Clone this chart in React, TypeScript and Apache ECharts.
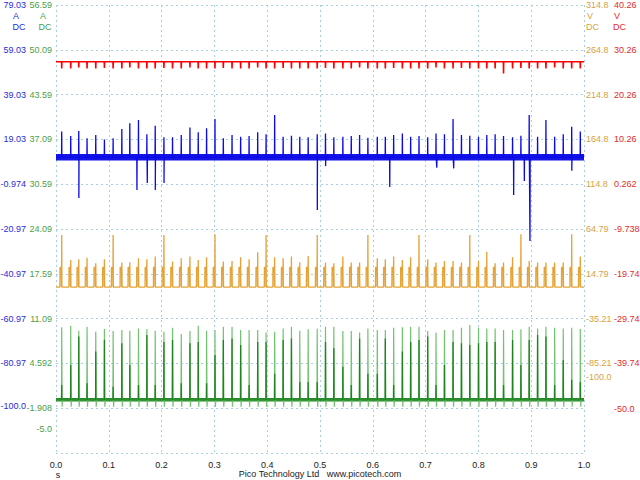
import React, { useEffect, useRef } from "react";
import * as echarts from "echarts";

// ---- tick labels (axis texts) ----
const blueTickLabels = ["79.03", "59.03", "39.03", "19.03", "-0.974", "-20.97", "-40.97", "-60.97", "-80.97", "-100.0"];
const greenTickLabels = ["56.59", "50.09", "43.59", "37.09", "30.59", "24.09", "17.59", "11.09", "4.592", "-1.908", "-5.0"];
const orangeTickLabels = ["314.8", "264.8", "214.8", "164.8", "114.8", "64.79", "14.79", "-35.21", "-85.21", "-100.0"];
const redTickLabels = ["40.26", "30.26", "20.26", "10.26", "0.262", "-9.738", "-19.74", "-29.74", "-39.74", "-50.0"];

// axis ranges (bottom, top) for the 10 divisions
const blueRange = [-120.97, 79.03];
const greenRange = [-8.41, 56.59];
const orangeRange = [-185.2, 314.8];
const redRange = [-59.74, 40.26];

// ---- event times (s) ----
const spikeTimes = [
  0.0108, 0.0279, 0.0431, 0.0588, 0.0753, 0.0917, 0.1082, 0.1247, 0.1398, 0.1562,
  0.1721, 0.1879, 0.2044, 0.2207, 0.2372, 0.2537, 0.2694, 0.2852, 0.3011, 0.3169,
  0.3334, 0.3497, 0.3657, 0.382, 0.3979, 0.4141, 0.4302, 0.4459, 0.4617, 0.4776,
  0.4947, 0.5104, 0.5262, 0.5433, 0.5592, 0.575, 0.5907, 0.6085, 0.6237, 0.6395,
  0.656, 0.6717, 0.6875, 0.704, 0.7197, 0.7357, 0.752, 0.7679, 0.7837, 0.8002,
  0.8159, 0.8317, 0.8476, 0.8647, 0.8805, 0.8962, 0.9121, 0.9279, 0.9444, 0.9607,
  0.9767, 0.993,
];

// ---- blue channel (A) ----
const blueBase = 11.1;
const bluePeaks = [
  22.5, 20.5, 22.8, 19.5, 21.0, 19.0, 19.5, 23.7, 26.2, 27.7,
  21.3, 25.1, 20.0, 20.0, 21.0, 24.3, 22.2, 24.0, 28.1, 19.5,
  21.0, 20.2, 20.5, 22.2, 21.3, 29.9, 20.2, 20.7, 20.2, 20.0,
  21.3, 21.7, 20.0, 20.2, 20.5, 21.0, 19.8, 20.2, 20.2, 21.0,
  21.7, 20.2, 20.5, 20.0, 21.7, 21.3, 28.1, 21.0, 20.7, 20.2,
  21.0, 21.3, 20.5, 20.0, 20.7, 29.9, 20.2, 27.7, 20.2, 21.3,
  24.7, 22.5,
];
const blueDipTimes = [0.0431, 0.1531, 0.1727, 0.1879, 0.2044, 0.4947, 0.5104, 0.6319, 0.721, 0.753, 0.8666, 0.8868, 0.8975, 0.9767];
const blueDipValues = [-7.1, -3.6, -0.4, -3.6, -0.4, -12.5, 7.1, -2.2, 6.4, 6.1, -5.8, 0.5, -26.3, 5.0];

// ---- red channel (V) ----
const redBase = 27.6;
const redDips = [
  26.1, 26.1, 26.3, 26.1, 26.1, 26.2, 26.1, 26.1, 26.3, 26.1,
  26.1, 26.1, 26.2, 26.1, 26.1, 26.3, 26.1, 26.1, 26.1, 26.2,
  26.1, 26.1, 26.1, 26.3, 26.1, 26.1, 26.2, 26.1, 26.1, 26.1,
  26.1, 26.2, 26.1, 26.1, 26.1, 26.3, 26.1, 26.1, 26.1, 26.2,
  26.1, 26.1, 26.1, 26.1, 26.3, 26.1, 26.1, 26.2, 26.1, 26.1,
  26.1, 26.1, 25.0, 26.1, 26.2, 26.1, 26.1, 26.1, 26.3, 26.1,
  26.1, 26.1,
];

// ---- orange channel (V) ----
const orangeBase = 0;
const orangeShoulder = 22;
const orangePeaks = [
  58.1, 30.2, 31.0, 32.8, 26.5, 31.0, 58.1, 27.3, 27.6, 32.1,
  31.0, 34.0, 58.1, 28.4, 32.1, 34.0, 30.2, 33.2, 58.9, 28.4,
  29.1, 33.2, 31.0, 38.8, 58.1, 33.2, 32.1, 34.0, 27.6, 34.7,
  58.1, 27.3, 26.5, 34.0, 27.3, 27.3, 58.1, 32.1, 31.0, 34.0,
  30.2, 33.2, 58.1, 31.0, 27.3, 29.1, 29.1, 27.3, 58.1, 29.1,
  39.5, 26.5, 27.3, 33.2, 58.9, 29.1, 27.3, 27.3, 27.3, 27.3,
  58.9, 34.0,
];

// ---- green channel (A) ----
const greenBase = -0.7;
const greenUndershoot = -1.7;
const greenPeaks = [
  9.82, 10.06, 9.34, 9.92, 9.19, 9.58, 9.29, 9.43, 9.34, 9.67,
  9.53, 9.34, 9.19, 9.77, 8.85, 9.29, 10.06, 9.34, 9.43, 9.92,
  9.92, 9.43, 9.43, 9.43, 9.09, 9.19, 9.67, 9.92, 9.34, 9.53,
  9.6, 9.92, 9.92, 9.29, 9.29, 9.09, 9.67, 9.43, 9.43, 9.77,
  9.82, 9.92, 9.92, 9.29, 9.09, 9.43, 9.43, 9.77, 10.16, 9.77,
  9.67, 9.67, 9.43, 9.43, 9.53, 9.92, 9.67, 9.92, 9.77, 9.67,
  9.77, 9.58,
];
const greenCores = [
  1.45, 4.35, 8.5, 1.7, 6.3, 8.0, 1.2, 7.5, 4.35, 1.45,
  8.7, 1.45, 7.7, 8.0, 1.7, 7.5, 7.7, 1.7, 5.8, 8.0,
  8.2, 7.25, 1.45, 7.7, 7.7, 3.1, 8.0, 8.2, 1.9, 1.9,
  1.9, 7.7, 6.8, 4.1, 1.45, 8.2, 3.1, 3.1, 8.2, 1.45,
  6.3, 7.7, 8.0, 8.5, 1.45, 4.35, 7.7, 7.5, 7.25, 7.5,
  7.7, 7.7, 1.45, 8.0, 4.35, 8.0, 8.7, 8.5, 1.45, 5.1,
  2.2, 1.9,
];

const FONT = "'Liberation Sans', Arial, sans-serif";
const GRID_COLOR = "#a9cfe4";
const BLUE_TXT = "#2b2bd6";
const GREEN_TXT = "#4c9e4c";
const ORANGE_TXT = "#d9a23e";
const RED_TXT = "#e22a2a";

function labelFor(labels: string[]) {
  const vals = labels.map(Number);
  return (v: number) => {
    let best = -1;
    let bd = Infinity;
    vals.forEach((x, i) => {
      const d = Math.abs(x - v);
      if (d < bd) {
        bd = d;
        best = i;
      }
    });
    return bd < 1e-3 ? labels[best] : "";
  };
}

function sideAxis(labels: string[], range: number[], position: string, offset: number, color: string, margin: number) {
  return {
    type: "value",
    position,
    offset,
    min: range[0],
    max: range[1],
    axisLine: { show: false },
    axisTick: { show: false },
    splitLine: { show: false },
    axisLabel: {
      customValues: labels.map(Number),
      formatter: labelFor(labels),
      color,
      fontSize: 9,
      fontFamily: FONT,
      margin,
      showMinLabel: true,
      showMaxLabel: true,
    },
  };
}

function buildBlue() {
  const events: { t: number; v: number }[] = [];
  spikeTimes.forEach((t, i) => events.push({ t, v: bluePeaks[i] }));
  blueDipTimes.forEach((t, i) => events.push({ t: t + 0.0002, v: blueDipValues[i] }));
  events.sort((a, b) => a.t - b.t);
  const pts: number[][] = [[0, blueBase]];
  events.forEach((e) => {
    pts.push([e.t - 0.0003, blueBase], [e.t, e.v], [e.t + 0.0003, blueBase]);
  });
  pts.push([1, blueBase]);
  return pts;
}

function buildRed() {
  const pts: number[][] = [[0, redBase]];
  spikeTimes.forEach((t, i) => {
    pts.push([t - 0.0003, redBase], [t, redDips[i]], [t + 0.0003, redBase]);
  });
  pts.push([1, redBase]);
  return pts;
}

function buildOrange() {
  const pts: number[][] = [[0, orangeBase]];
  spikeTimes.forEach((t, i) => {
    pts.push(
      [t - 0.0034, orangeBase],
      [t - 0.0032, orangeShoulder],
      [t - 0.0008, orangeShoulder],
      [t - 0.0004, orangeBase],
      [t - 0.0002, orangeShoulder],
      [t, orangePeaks[i]],
      [t + 0.0004, orangeBase]
    );
  });
  pts.push([1, orangeBase]);
  return pts;
}

function buildGreenLight() {
  const pts: number[][] = [[0, greenBase]];
  spikeTimes.forEach((t, i) => {
    pts.push([t - 0.0004, greenBase], [t, greenPeaks[i]], [t + 0.0008, greenUndershoot], [t + 0.0016, greenBase]);
  });
  pts.push([1, greenBase]);
  return pts;
}

function buildGreenCore() {
  const pts: number[][] = [[0, greenBase]];
  spikeTimes.forEach((t, i) => {
    pts.push([t - 0.0003, greenBase], [t, greenCores[i]], [t + 0.0003, greenBase]);
  });
  pts.push([1, greenBase]);
  return pts;
}

function lineSeries(data: number[][], yAxisIndex: number, color: string, width: number, z = 2) {
  return {
    type: "line",
    data,
    yAxisIndex,
    showSymbol: false,
    symbol: "none",
    silent: true,
    z,
    lineStyle: { color, width },
  };
}

function unitText(text: string, x: number, y: number, color: string, align: string) {
  return {
    type: "text",
    x,
    y,
    style: { text, fill: color, fontSize: 9, fontFamily: FONT, align, verticalAlign: "middle" },
  };
}

export default function App() {
  const ref = useRef<HTMLDivElement>(null);
  useEffect(() => {
    const chart = echarts.init(ref.current!, null, { renderer: "svg" });
    const dotted = { color: GRID_COLOR, width: 1, type: [2, 3] };
    chart.setOption({
      animation: false,
      backgroundColor: "#ffffff",
      grid: { left: 56, right: 56, top: 5, bottom: 27, containLabel: false, outerBoundsMode: "none" },
      xAxis: {
        type: "value",
        min: 0,
        max: 1,
        interval: 0.1,
        axisLine: { show: false },
        axisTick: { show: false },
        splitLine: { show: true, lineStyle: dotted },
        axisLabel: {
          formatter: (v: number) => v.toFixed(1),
          color: "#222",
          fontSize: 9,
          fontFamily: FONT,
          margin: 7,
        },
      },
      yAxis: [
        sideAxis(blueTickLabels, blueRange, "left", 26, BLUE_TXT, 4),
        sideAxis(greenTickLabels, greenRange, "left", 0, GREEN_TXT, 4),
        sideAxis(orangeTickLabels, orangeRange, "right", 0, ORANGE_TXT, 2),
        sideAxis(redTickLabels, redRange, "right", 28, RED_TXT, 2),
        {
          type: "value",
          min: 0,
          max: 10,
          interval: 1,
          axisLine: { show: false },
          axisTick: { show: false },
          axisLabel: { show: false },
          splitLine: { show: true, lineStyle: dotted },
        },
      ],
      series: [
        lineSeries(buildRed(), 3, "#ff0000", 1.6),
        lineSeries(buildOrange(), 2, "#e6a234", 1.3),
        lineSeries([[0, blueBase], [1, blueBase]], 0, "#1414e6", 6.5),
        lineSeries(buildBlue(), 0, "#0a0ae8", 1.3, 3),
        lineSeries([[0, greenBase], [1, greenBase]], 1, "#238b23", 3.5),
        lineSeries(buildGreenLight(), 1, "#72c272", 1.2),
        lineSeries(buildGreenCore(), 1, "#1f831f", 1.3, 3),
      ],
      graphic: [
        unitText("A", 16, 16, BLUE_TXT, "center"),
        unitText("DC", 19, 27, BLUE_TXT, "center"),
        unitText("A", 43, 16, GREEN_TXT, "center"),
        unitText("DC", 45, 27, GREEN_TXT, "center"),
        unitText("V", 587, 16, ORANGE_TXT, "left"),
        unitText("DC", 586, 27, ORANGE_TXT, "left"),
        unitText("V", 614, 16, RED_TXT, "left"),
        unitText("DC", 613, 27, RED_TXT, "left"),
        unitText("s", 58, 475, "#222", "center"),
        unitText("Pico Technology Ltd   www.picotech.com", 320, 474, "#222", "center"),
      ],
    });
    return () => chart.dispose();
  }, []);
  return (
    <div
      ref={ref}
      style={{ position: "absolute", left: 0, top: 0, width: 640, height: 480, background: "#fff" }}
    />
  );
}
